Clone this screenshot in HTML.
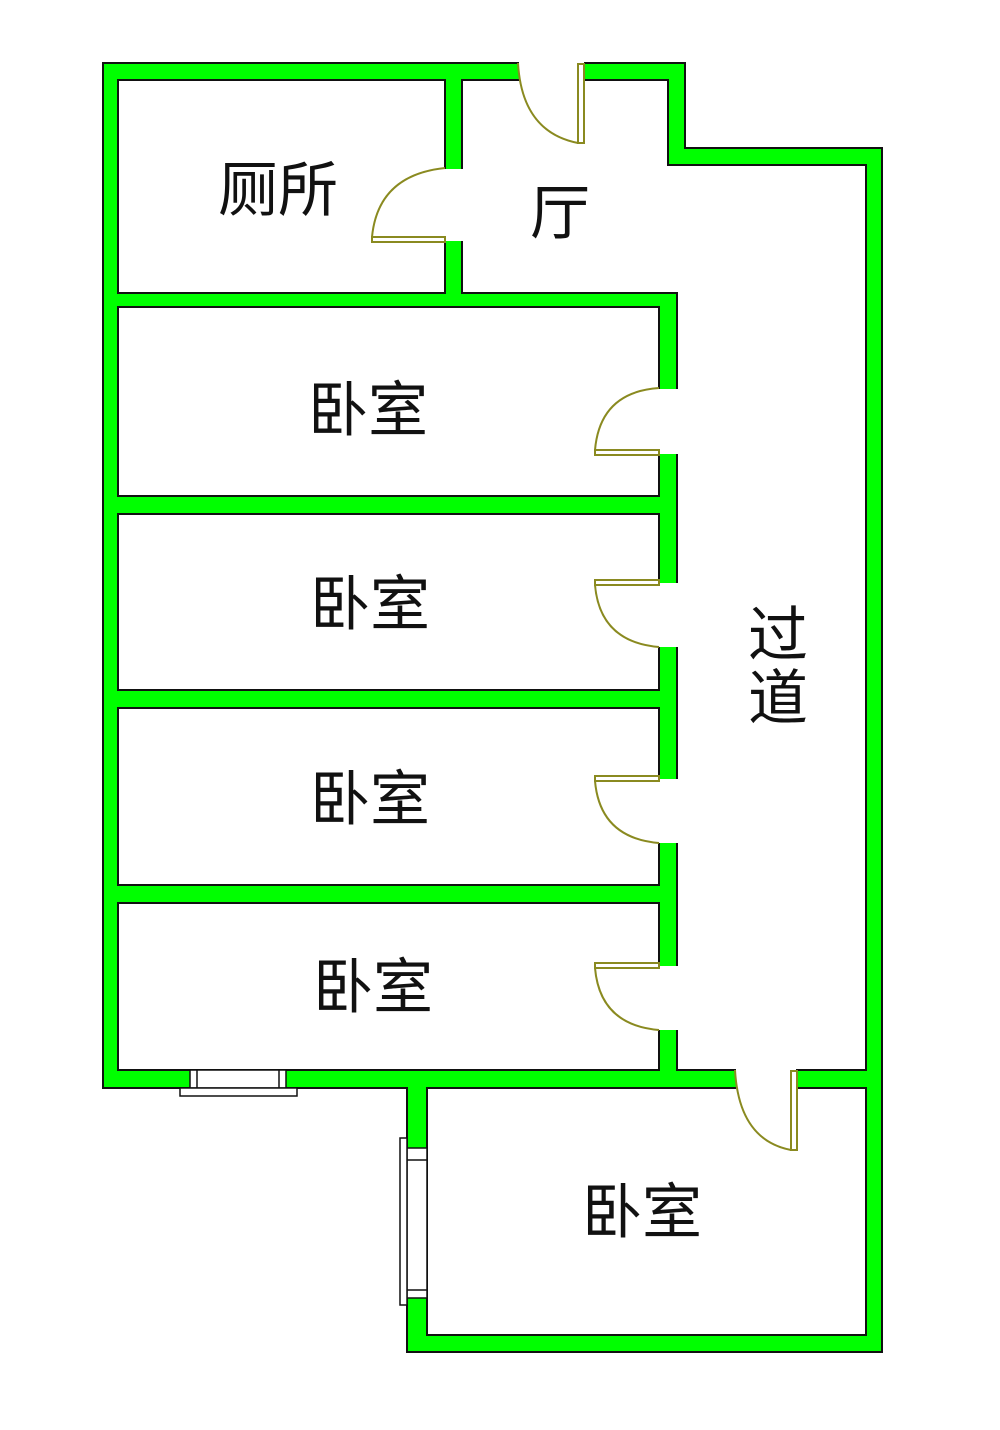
<!DOCTYPE html>
<html><head><meta charset="utf-8"><style>
html,body{margin:0;padding:0;background:#fff;}
svg{display:block}
text{font-family:"Liberation Sans","Noto Sans CJK SC",sans-serif;fill:#111;}
</style></head><body>
<svg width="1000" height="1430" viewBox="0 0 1000 1430" xmlns="http://www.w3.org/2000/svg">
<polygon points="103,63 685,63 685,148 882,148 882,1352 407,1352 407,1088 103,1088" fill="#00ff00" stroke="#111" stroke-width="2"/>
<g fill="#fff" stroke="#111" stroke-width="2">
<rect x="118" y="80" width="327" height="213"/>
<polygon points="462,80 668,80 668,165 866,165 866,1070 677,1070 677,293 462,293"/>
<rect x="118" y="307" width="541" height="189"/>
<rect x="118" y="514" width="541" height="176"/>
<rect x="118" y="708" width="541" height="177"/>
<rect x="118" y="903" width="541" height="167"/>
<rect x="427" y="1088" width="439" height="247"/>
</g>
<g fill="#fff" stroke="none">
<rect x="519" y="62" width="65" height="19"/>
<rect x="444" y="169" width="19" height="72"/>
<rect x="658" y="389" width="20" height="65"/>
<rect x="658" y="583" width="20" height="64"/>
<rect x="658" y="779" width="20" height="64"/>
<rect x="658" y="966" width="20" height="64"/>
<rect x="736" y="1069" width="60" height="20"/>
</g>
<g fill="none" stroke="#8a8a20" stroke-width="2">
<rect x="578" y="64" width="6" height="79"/>
<path d="M518,63 Q522,132 578,143"/>
<rect x="372" y="237" width="73" height="5"/>
<path d="M445,168 Q378,175 372,237"/>
<rect x="595" y="450" width="64" height="5"/>
<path d="M659,388 Q600,392 595,450"/>
<rect x="595" y="580" width="64" height="5"/>
<path d="M595,585 Q600,642 659,647"/>
<rect x="595" y="776" width="64" height="5"/>
<path d="M595,781 Q600,838 659,843"/>
<rect x="595" y="963" width="64" height="5"/>
<path d="M595,968 Q600,1025 659,1030"/>
<rect x="791" y="1071" width="6" height="79"/>
<path d="M735,1070 Q739,1140 791,1150"/>
</g>
<g fill="#fff" stroke="#111" stroke-width="1.5">
<rect x="190" y="1070" width="96" height="18"/>
<rect x="180" y="1088" width="117" height="8"/>
<line x1="197" y1="1070" x2="197" y2="1088"/>
<line x1="279" y1="1070" x2="279" y2="1088"/>
<rect x="407" y="1148" width="20" height="150"/>
<rect x="400" y="1138" width="7" height="167"/>
<line x1="407" y1="1160" x2="427" y2="1160"/>
<line x1="407" y1="1290" x2="427" y2="1290"/>
</g>
<g font-size="60" text-anchor="middle">
<text x="278" y="211">厕所</text>
<text x="560" y="234">厅</text>
<text x="368" y="431">卧室</text>
<text x="370" y="625">卧室</text>
<text x="370" y="820">卧室</text>
<text x="373" y="1008">卧室</text>
<text x="642" y="1233">卧室</text>
<text x="778" y="656">过</text>
<text x="778" y="719">道</text>
</g>
</svg>
</body></html>
